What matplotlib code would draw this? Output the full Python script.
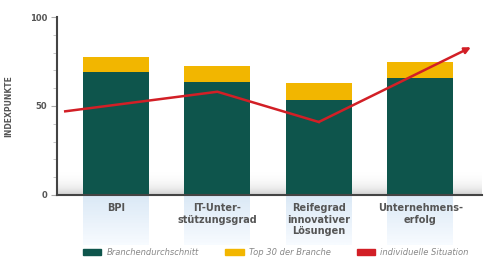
import matplotlib.pyplot as plt
import numpy as np
from matplotlib.patches import Patch

categories = ["BPI", "IT-Unter-\nstützungsgrad", "Reifegrad\ninnovativer\nLösungen", "Unternehmens-\nerfolg"]
branchen = [69, 63.5, 53.5, 65.5]
top_total = [77.5, 72.5, 63, 74.5]
top_extra = [t - b for t, b in zip(top_total, branchen)]
situation_x = [-0.5, 1, 2, 3.5]
situation_y = [47, 58, 41, 83]

dark = "#0e554c"
yellow = "#f2b600"
red = "#d21f26"
grey = "#555555"

fig = plt.figure(figsize=(4.84, 2.62), dpi=100)
ax = fig.add_axes([0.118, 0.256, 0.878, 0.679])

x = np.arange(len(categories))
w = 0.65

# Boden-Schatten zwischen den Balken und Spiegelung unter der Achse
shade = np.linspace(0, 1, 50).reshape(-1, 1) ** 2
ax.imshow(shade, extent=(-0.58, 3.61, 0, 14), cmap="Greys", vmin=0, vmax=3.5,
          aspect="auto", origin="upper", zorder=0)
for xi in x:
    refl = np.linspace(1, 0, 50).reshape(-1, 1)
    ax.imshow(refl, extent=(xi - w / 2, xi + w / 2, -28, 0), cmap="Blues",
              vmin=0, vmax=7, aspect="auto", origin="upper", zorder=0,
              clip_on=False)

ax.bar(x, branchen, w, color=dark, zorder=2)
ax.bar(x, top_extra, w, bottom=branchen, color=yellow, zorder=2)

ax.plot(situation_x[:-1], situation_y[:-1], color=red, lw=1.8, zorder=3,
        solid_joinstyle="miter")
ax.annotate("", xy=(situation_x[-1], situation_y[-1]),
            xytext=(situation_x[-2], situation_y[-2]),
            arrowprops=dict(arrowstyle="-|>", color=red, lw=1.8,
                            mutation_scale=9, shrinkA=0, shrinkB=0),
            zorder=3)

ax.set_xlim(-0.58, 3.61)
ax.set_ylim(0, 100)
for s in ["top", "right"]:
    ax.spines[s].set_visible(False)
ax.spines["left"].set_color("#444444")
ax.spines["bottom"].set_color("#444444")
ax.spines["left"].set_linewidth(1.5)
ax.spines["bottom"].set_linewidth(1.5)
ax.spines["left"].set_zorder(4)
ax.spines["bottom"].set_zorder(4)

ax.set_yticks([0, 50, 100])
ax.set_yticks(np.arange(0, 101, 10), minor=True)
ax.set_yticklabels(["0", "50", "100"], fontsize=6, fontweight="bold", color=grey)
ax.tick_params(axis="y", which="major", length=4, color="#aaaaaa", pad=3)
ax.tick_params(axis="y", which="minor", length=3, color="#bbbbbb")
ax.set_xticks(x)
ax.set_xticklabels(categories, fontsize=7, fontweight="bold", color=grey,
                   linespacing=1.2, va="top")
ax.tick_params(axis="x", length=0, pad=6)
ax.set_ylabel("INDEXPUNKTE", fontsize=5.5, fontweight="bold", color=grey,
              labelpad=12)

handles = [Patch(color=dark, label="Branchendurchschnitt"),
           Patch(color=yellow, label="Top 30 der Branche"),
           Patch(color=red, label="individuelle Situation")]
fig.legend(handles=handles, loc="lower center", bbox_to_anchor=(0.57, -0.01),
           ncol=3, frameon=False, handlelength=2.2, handleheight=0.8,
           columnspacing=3.2, handletextpad=0.6,
           prop=dict(size=6, style="italic"), labelcolor="#888888")

fig.savefig("out.png", dpi=100)
